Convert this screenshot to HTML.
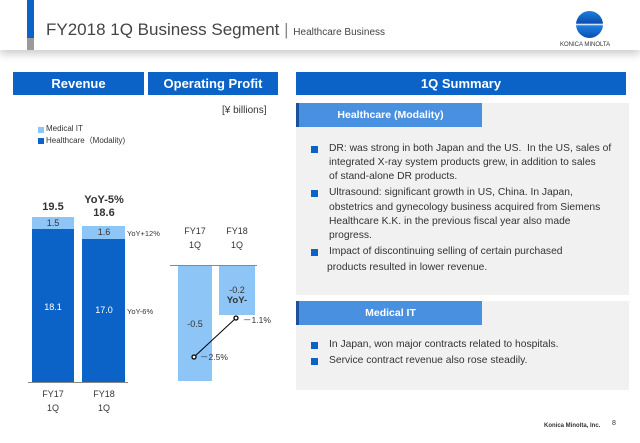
<!DOCTYPE html><html><head><style>
body{margin:0;width:640px;height:443px;background:#fff;font-family:"Liberation Sans","DejaVu Sans",sans-serif;position:relative;overflow:hidden}
.a{position:absolute}
.tab{position:absolute;top:72px;height:23px;background:#0b63c8;color:#fff;font-weight:bold;font-size:13px;line-height:23px;text-align:center}
.sub{position:absolute;left:296px;width:186px;height:24px;background:#4a90e0;border-left:3px solid #1c4f9c;box-sizing:border-box;color:#fff;font-weight:bold;font-size:10.5px;line-height:24px;text-align:center}
.t{position:absolute;font-size:10.3px;color:#333;white-space:nowrap}
.b{position:absolute;width:7px;height:7px;background:#0b63c8}
.c{position:absolute;font-size:9px;color:#333;transform:translateX(-50%);white-space:nowrap}
</style></head><body>
<div class="a" style="left:0;top:0;width:640px;height:50px;background:#fff;box-shadow:0 4px 8px #ccc"></div>
<div class="a" style="left:27px;top:0;width:7px;height:38px;background:#0b63c8"></div>
<div class="a" style="left:27px;top:38px;width:7px;height:12px;background:#9a9a9a"></div>
<div class="a" style="left:46px;top:20px;font-size:17px;color:#444;white-space:nowrap">FY2018 1Q Business Segment <span style="color:#888">|</span> <span style="font-size:10px">Healthcare Business</span></div>
<div class="a" style="left:576px;top:11px;width:27px;height:27px;border-radius:50%;background:linear-gradient(#1d7de0,#0a4fb0 45%,#fff 50%,#1d7de0 55%,#0a4fb0)"></div>
<div class="a" style="left:560px;top:42px;font-size:6px;color:#333">KONICA MINOLTA</div>
<div class="tab" style="left:13px;width:131px">Revenue</div>
<div class="tab" style="left:148px;width:130px">Operating Profit</div>
<div class="tab" style="left:296px;width:330px">1Q Summary</div>
<div class="t" style="left:222px;top:105px;font-size:10px">[¥ billions]</div>
<div class="a" style="left:38px;top:127px;width:6px;height:6px;background:#8ec5f7"></div>
<div class="a" style="left:38px;top:138px;width:6px;height:6px;background:#0b63c8"></div>
<div class="t" style="left:46px;top:124px;font-size:8px">Medical IT</div>
<div class="t" style="left:46px;top:135px;font-size:8px">Healthcare（Modality)</div>
<!-- revenue -->
<div class="a" style="left:32px;top:217px;width:42px;height:12px;background:#8ec5f7"></div>
<div class="a" style="left:32px;top:229px;width:42px;height:153px;background:#0b63c8"></div>
<div class="a" style="left:82px;top:226px;width:43px;height:13px;background:#8ec5f7"></div>
<div class="a" style="left:82px;top:239px;width:43px;height:143px;background:#0b63c8"></div>
<div class="a" style="left:28px;top:382px;width:100px;height:1px;background:#888"></div>
<div class="c" style="left:53px;top:201px;font-size:11px;font-weight:bold">19.5</div>
<div class="c" style="left:104px;top:194px;font-size:11px;font-weight:bold">YoY-5%</div>
<div class="c" style="left:104px;top:207px;font-size:11px;font-weight:bold">18.6</div>
<div class="c" style="left:53px;top:218px">1.5</div>
<div class="c" style="left:104px;top:227px">1.6</div>
<div class="c" style="left:53px;top:302px;color:#fff">18.1</div>
<div class="c" style="left:104px;top:305px;color:#fff">17.0</div>
<div class="t" style="left:127px;top:229px;font-size:7.5px">YoY+12%</div>
<div class="t" style="left:127px;top:307px;font-size:7.5px">YoY-6%</div>
<div class="c" style="left:53px;top:389px">FY17</div><div class="c" style="left:53px;top:403px">1Q</div>
<div class="c" style="left:104px;top:389px">FY18</div><div class="c" style="left:104px;top:403px">1Q</div>
<!-- OP -->
<div class="c" style="left:195px;top:226px">FY17</div><div class="c" style="left:195px;top:240px">1Q</div>
<div class="c" style="left:237px;top:226px">FY18</div><div class="c" style="left:237px;top:240px">1Q</div>
<div class="a" style="left:178px;top:266px;width:34px;height:115px;background:#8ec5f7"></div>
<div class="a" style="left:219px;top:266px;width:36px;height:49px;background:#8ec5f7"></div>
<div class="a" style="left:170px;top:265px;width:87px;height:1px;background:#888"></div>
<div class="c" style="left:195px;top:319px">-0.5</div>
<div class="c" style="left:237px;top:285px">-0.2</div>
<div class="c" style="left:237px;top:295px;font-weight:bold;font-size:9.5px">YoY-</div>
<svg class="a" style="left:0;top:0" width="640" height="443"><line x1="194" y1="357" x2="236" y2="318" stroke="#000" stroke-width="1"/><circle cx="194" cy="357" r="2" fill="#fff" stroke="#000" stroke-width="1.3"/><circle cx="236" cy="318" r="2" fill="#fff" stroke="#000" stroke-width="1.3"/></svg>
<div class="t" style="left:200px;top:351px;font-size:8.5px">－2.5%</div>
<div class="t" style="left:243px;top:314px;font-size:8.5px">－1.1%</div>
<!-- summary -->
<div class="a" style="left:296px;top:103px;width:333px;height:192px;background:#f1f1f1"></div>
<div class="sub" style="top:103px">Healthcare (Modality)</div>
<div class="b" style="left:311px;top:146px"></div><div class="b" style="left:311px;top:190px"></div><div class="b" style="left:311px;top:249px"></div>
<div class="t" style="left:329px;top:143px">DR: was strong in both Japan and the US.&nbsp; In the US, sales of</div>
<div class="t" style="left:329px;top:157px">integrated X-ray system products grew, in addition to sales</div>
<div class="t" style="left:329px;top:171px">of stand-alone DR products.</div>
<div class="t" style="left:329px;top:187px">Ultrasound: significant growth in US, China. In Japan,</div>
<div class="t" style="left:329px;top:202px">obstetrics and gynecology business acquired from Siemens</div>
<div class="t" style="left:329px;top:216px">Healthcare K.K. in the previous fiscal year also made</div>
<div class="t" style="left:329px;top:230px">progress.</div>
<div class="t" style="left:329px;top:246px">Impact of discontinuing selling of certain purchased</div>
<div class="t" style="left:327px;top:262px">products resulted in lower revenue.</div>
<div class="a" style="left:296px;top:301px;width:333px;height:89px;background:#f1f1f1"></div>
<div class="sub" style="top:301px">Medical IT</div>
<div class="b" style="left:311px;top:342px"></div><div class="b" style="left:311px;top:358px"></div>
<div class="t" style="left:329px;top:339px">In Japan, won major contracts related to hospitals.</div>
<div class="t" style="left:329px;top:355px">Service contract revenue also rose steadily.</div>
<div class="t" style="left:544px;top:423px;font-size:6px;font-weight:bold">Konica Minolta, Inc.</div>
<div class="t" style="left:612px;top:420px;font-size:7px">8</div>
</body></html>
